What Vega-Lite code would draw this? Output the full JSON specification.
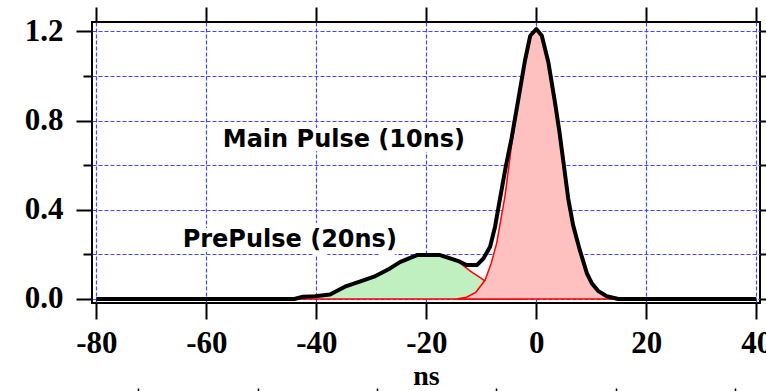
{
  "$schema": "https://vega.github.io/schema/vega-lite/v6.json",
  "width": 668,
  "height": 281,
  "autosize": {"type": "none"},
  "padding": {"left": 92, "top": 22, "right": 6, "bottom": 88},
  "background": "white",
  "config": {
    "view": {"stroke": "black", "strokeWidth": 2},
    "axis": {
      "domain": false,
      "tickColor": "black",
      "tickWidth": 2,
      "labelColor": "black",
      "labelFont": "Liberation Serif",
      "labelFontWeight": "bold",
      "labelFontSize": 31,
      "labelFlush": false,
      "labelOverlap": false,
      "gridColor": "#4646ff",
      "gridDash": [4, 2],
      "gridWidth": 1.2,
      "gridOpacity": 1
    }
  },
  "datasets": {
    "prepulse": [
      {"ns": -44, "v": 0}, {"ns": -43, "v": 0.005}, {"ns": -42, "v": 0.01}, {"ns": -40, "v": 0.012},
      {"ns": -38, "v": 0.018}, {"ns": -36, "v": 0.035}, {"ns": -34.8, "v": 0.055}, {"ns": -32.1, "v": 0.078},
      {"ns": -29.5, "v": 0.1}, {"ns": -26.6, "v": 0.137}, {"ns": -24.8, "v": 0.162}, {"ns": -23, "v": 0.185},
      {"ns": -21.7, "v": 0.197}, {"ns": -17.5, "v": 0.197}, {"ns": -15.5, "v": 0.185}, {"ns": -13.9, "v": 0.162},
      {"ns": -12, "v": 0.125}, {"ns": -10, "v": 0.092}, {"ns": -8, "v": 0.055}, {"ns": -6, "v": 0.025},
      {"ns": -4, "v": 0.008}, {"ns": -2, "v": 0}
    ],
    "main": [
      {"ns": -14.5, "v": 0}, {"ns": -12.7, "v": 0.008}, {"ns": -11, "v": 0.03}, {"ns": -9.3, "v": 0.085},
      {"ns": -8.2, "v": 0.16}, {"ns": -7.2, "v": 0.25}, {"ns": -5.7, "v": 0.46}, {"ns": -4.5, "v": 0.69},
      {"ns": -3.3, "v": 0.88}, {"ns": -2.1, "v": 1.06}, {"ns": -1, "v": 1.18}, {"ns": 0, "v": 1.21},
      {"ns": 1, "v": 1.18}, {"ns": 2.2, "v": 1.06}, {"ns": 3.4, "v": 0.88}, {"ns": 4.2, "v": 0.75},
      {"ns": 4.9, "v": 0.62}, {"ns": 5.8, "v": 0.45}, {"ns": 6.7, "v": 0.33}, {"ns": 7.9, "v": 0.22},
      {"ns": 9.2, "v": 0.115}, {"ns": 10.1, "v": 0.07}, {"ns": 11.3, "v": 0.035}, {"ns": 12.8, "v": 0.012},
      {"ns": 14.9, "v": 0}
    ],
    "total": [
      {"ns": -80, "v": 0}, {"ns": -44, "v": 0}, {"ns": -42.4, "v": 0.01}, {"ns": -40.2, "v": 0.012},
      {"ns": -37.5, "v": 0.02}, {"ns": -34.8, "v": 0.055}, {"ns": -32.1, "v": 0.078}, {"ns": -29.5, "v": 0.1},
      {"ns": -26.6, "v": 0.137}, {"ns": -24.8, "v": 0.165}, {"ns": -21.7, "v": 0.197}, {"ns": -17.5, "v": 0.197},
      {"ns": -13.9, "v": 0.167}, {"ns": -12.7, "v": 0.152}, {"ns": -10.8, "v": 0.152}, {"ns": -9.6, "v": 0.182},
      {"ns": -8.4, "v": 0.234}, {"ns": -7.5, "v": 0.324}, {"ns": -6.6, "v": 0.45}, {"ns": -5.5, "v": 0.6},
      {"ns": -4.5, "v": 0.72}, {"ns": -3.3, "v": 0.89}, {"ns": -2.05, "v": 1.07}, {"ns": -1.1, "v": 1.18},
      {"ns": 0, "v": 1.21}, {"ns": 1, "v": 1.18}, {"ns": 2.2, "v": 1.06}, {"ns": 3.4, "v": 0.88},
      {"ns": 4.2, "v": 0.75}, {"ns": 4.9, "v": 0.62}, {"ns": 5.8, "v": 0.45}, {"ns": 6.7, "v": 0.33},
      {"ns": 7.9, "v": 0.22}, {"ns": 9.2, "v": 0.115}, {"ns": 10.1, "v": 0.07}, {"ns": 11.3, "v": 0.035},
      {"ns": 12.8, "v": 0.012}, {"ns": 14.9, "v": 0}, {"ns": 40, "v": 0}
    ],
    "labels": [
      {"ns": -57, "v": 0.683, "label": "Main Pulse (10ns)"},
      {"ns": -64.3, "v": 0.234, "label": "PrePulse (20ns)"}
    ],
    "lower": [{"k": 0}, {"k": 5}]
  },
  "layer": [
    {
      "data": {"name": "prepulse"},
      "mark": {"type": "area", "color": "#c0f0c0", "stroke": "#ff0000", "strokeWidth": 1.5, "fillOpacity": 1},
      "encoding": {
        "x": {
          "field": "ns", "type": "quantitative",
          "scale": {"domain": [-80.78, 40.67], "nice": false, "zero": false},
          "axis": {
            "orient": "bottom", "values": [-80, -60, -40, -20, 0, 20, 40], "grid": true,
            "labelExpr": "datum.value < 0 ? '-' + abs(datum.value) : '' + datum.value",
            "tickSize": 16, "labelPadding": 9, "title": "ns",
            "titleFont": "Liberation Serif", "titleFontWeight": "bold", "titleFontSize": 28,
            "titleColor": "black", "titlePadding": 4
          }
        },
        "y": {
          "field": "v", "type": "quantitative",
          "scale": {"domain": [-0.018, 1.2415], "nice": false, "zero": false},
          "axis": {
            "orient": "left", "values": [0, 0.4, 0.8, 1.2], "format": ".1f", "grid": true,
            "tickSize": 16, "labelPadding": 13, "title": null
          }
        },
        "y2": {"datum": 0}
      }
    },
    {
      "data": {"name": "main"},
      "mark": {"type": "area", "color": "#ffc0c0", "stroke": "#ff0000", "strokeWidth": 1.5, "fillOpacity": 1},
      "encoding": {
        "x": {
          "field": "ns", "type": "quantitative",
          "scale": {"domain": [-80.78, 40.67], "nice": false, "zero": false},
          "axis": {
            "orient": "top", "values": [-80, -60, -40, -20, 0, 20, 40], "grid": false,
            "labels": false, "tickSize": 15, "title": null
          }
        },
        "y": {
          "field": "v", "type": "quantitative",
          "axis": {
            "orient": "left", "values": [0.2, 0.6, 1.0], "grid": true, "labels": false,
            "tickSize": 9, "title": null
          }
        },
        "y2": {"datum": 0}
      }
    },
    {
      "data": {"name": "total"},
      "mark": {"type": "line", "color": "black", "strokeWidth": 4, "strokeJoin": "round"},
      "encoding": {
        "x": {
          "field": "ns", "type": "quantitative",
          "scale": {"domain": [-80.78, 40.67], "nice": false, "zero": false},
          "axis": null
        },
        "y": {
          "field": "v", "type": "quantitative",
          "axis": {
            "orient": "right", "values": [0, 0.2, 0.4, 0.6, 0.8, 1.0, 1.2], "grid": false,
            "labels": false, "tickSize": 16, "title": null
          }
        }
      }
    },
    {
      "data": {"name": "labels"},
      "mark": {"type": "text", "font": "DejaVu Sans", "fontWeight": "bold", "fontSize": 24,
               "align": "left", "baseline": "alphabetic", "color": "white", "stroke": "white", "strokeWidth": 10},
      "encoding": {
        "x": {"field": "ns", "type": "quantitative",
              "scale": {"domain": [-80.78, 40.67], "nice": false, "zero": false}, "axis": null},
        "y": {"field": "v", "type": "quantitative", "axis": null},
        "text": {"field": "label"}
      }
    },
    {
      "data": {"name": "labels"},
      "mark": {"type": "text", "font": "DejaVu Sans", "fontWeight": "bold", "fontSize": 24,
               "align": "left", "baseline": "alphabetic", "color": "black"},
      "encoding": {
        "x": {"field": "ns", "type": "quantitative",
              "scale": {"domain": [-80.78, 40.67], "nice": false, "zero": false}, "axis": null},
        "y": {"field": "v", "type": "quantitative", "axis": null},
        "text": {"field": "label"}
      }
    },
    {
      "data": {"name": "lower"},
      "mark": {"type": "point", "opacity": 0},
      "encoding": {
        "x": {
          "field": "k", "type": "quantitative",
          "scale": {"domain": [-0.388, 5.211], "nice": false, "zero": false},
          "axis": {
            "orient": "bottom", "offset": 85, "values": [0, 1, 2, 3, 4, 5], "labels": false,
            "grid": false, "tickSize": 10, "tickWidth": 1.5, "title": null
          }
        }
      }
    }
  ],
  "resolve": {
    "scale": {"x": "independent"},
    "axis": {"x": "independent", "y": "independent"}
  }
}
